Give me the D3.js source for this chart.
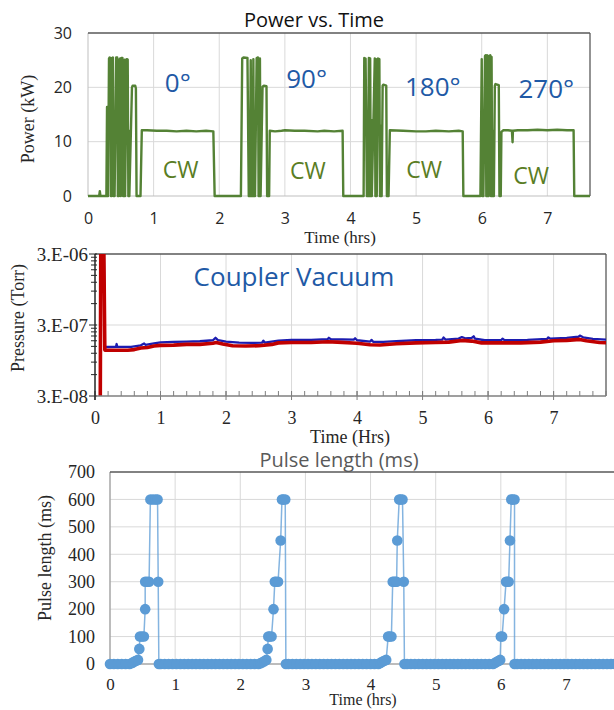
<!DOCTYPE html>
<html>
<head>
<meta charset="utf-8">
<script src="https://cdn.jsdelivr.net/npm/d3@7"></script>
<style>
  body { margin: 0; background: #fff; }
  .sans { font-family: "Open Sans", "Noto Sans", sans-serif; }
  .serif { font-family: "Liberation Serif", "Times New Roman", serif; }
</style>
</head>
<body>
<svg id="chart" width="614" height="710"></svg>
<script>
// ---------- data ----------
const hourTicks = [0, 1, 2, 3, 4, 5, 6, 7];
const powerTicks = [0, 10, 20, 30];
const pressureTicks = [3e-8, 3e-7, 3e-6];
const pressureTickLabels = ["3.E-08", "3.E-07", "3.E-06"];
const pulseTicks = [0, 100, 200, 300, 400, 500, 600, 700];

// power [hours, kW], one block per coupler angle
const power0 = [[0,0],[0.17,0],[0.18,0.9],[0.19,0],[0.28,0],[0.29,16.4],[0.30,16.4],[0.305,0],[0.32,25.3],[0.33,25.5],
  [0.345,25.4],[0.35,0],[0.355,13],[0.36,0],[0.37,25.4],[0.38,25.5],[0.39,0],[0.40,15],[0.405,0],[0.43,25.5],
  [0.445,25.5],[0.455,0],[0.46,11],[0.47,0],[0.48,25.2],[0.49,25.3],[0.50,0],[0.51,25.4],[0.525,25.4],[0.535,0],
  [0.54,14],[0.545,0],[0.56,25.1],[0.565,0],[0.59,25.2],[0.605,25.1],[0.615,0],[0.625,12],[0.63,0],[0.67,20.0],
  [0.68,20.3],[0.72,20.3],[0.73,19.8],[0.74,0],[0.80,0],[0.82,12.1],[0.90,12.1],[1.05,12.0],[1.2,12.0],[1.35,11.9],
  [1.5,12.0],[1.65,11.9],[1.8,12.0],[1.91,11.9],[1.93,0]];
const power90 = [[2.33,0],[2.35,25.3],[2.37,25.5],[2.43,25.4],[2.45,0],[2.46,13],[2.465,0],[2.48,25.0],[2.49,0],
  [2.50,12],[2.505,0],[2.52,25.2],[2.53,0],[2.54,14],[2.545,0],[2.57,25.4],[2.59,25.5],[2.60,0],[2.605,15],[2.61,0],
  [2.62,25.3],[2.63,0],[2.66,20.1],[2.68,20.3],[2.72,20.2],[2.73,0],[2.76,0],[2.77,12.0],[2.85,11.9],[2.95,12.0],
  [3.0,12.1],[3.15,12.0],[3.3,12.0],[3.5,11.9],[3.6,12.0],[3.75,11.9],[3.88,12.0],[3.89,0]];
const power180 = [[4.20,0],[4.21,25.4],[4.23,25.3],[4.25,0],[4.26,12],[4.265,0],[4.28,25.4],[4.29,0],[4.30,25.3],
  [4.31,0],[4.32,14],[4.325,0],[4.37,25.3],[4.38,0],[4.39,25.2],[4.40,0],[4.42,25.3],[4.44,25.2],[4.45,0],[4.47,13],
  [4.475,0],[4.49,20.3],[4.50,20.5],[4.545,20.3],[4.555,0],[4.58,0],[4.60,12.1],[4.8,12.0],[5.0,11.9],[5.15,11.9],
  [5.3,12.0],[5.5,11.9],[5.65,12.0],[5.71,11.9],[5.72,0]];
const power270 = [[5.98,0],[6.00,25.2],[6.01,0],[6.02,13],[6.025,0],[6.05,25.8],[6.06,25.9],[6.07,0],[6.08,25.9],
  [6.09,0],[6.10,14],[6.105,0],[6.11,25.8],[6.13,25.9],[6.14,0],[6.15,25.6],[6.16,0],[6.18,12],[6.185,0],[6.20,20.3],
  [6.21,20.6],[6.26,20.4],[6.27,0],[6.29,0],[6.30,11.8],[6.33,12.1],[6.40,12.1],[6.46,12.0],[6.47,9.9],[6.475,12.0],
  [6.55,12.1],[6.7,12.1],[6.85,12.2],[7.0,12.1],[7.15,12.2],[7.3,12.1],[7.40,12.1],[7.41,0],[7.65,0]];

// annotation text and where it sits [hours, kW]
const angleLabels = ["0°", "90°", "180°", "270°"];
const angleAt = [[1.17,19.1],[3.02,19.9],[4.83,18.4],[6.56,18.0]];
const cwAt = [[1.14,3.3],[3.08,3.1],[4.85,3.3],[6.48,2.2]];

// coupler vacuum [hours, Torr]
const vacuumRed = [[0,2e-8],[0.08,2e-8],[0.09,1e-5],[0.13,1e-5],[0.15,1.33e-7],[0.3,1.32e-7],[0.5,1.32e-7],
  [0.6,1.35e-7],[0.7,1.42e-7],[0.8,1.45e-7],[0.9,1.52e-7],[1.0,1.55e-7],[1.2,1.56e-7],[1.4,1.6e-7],[1.6,1.6e-7],
  [1.8,1.66e-7],[1.85,1.7e-7],[1.95,1.62e-7],[2.1,1.53e-7],[2.3,1.52e-7],[2.5,1.53e-7],[2.7,1.6e-7],[2.8,1.68e-7],
  [3.0,1.7e-7],[3.3,1.7e-7],[3.55,1.74e-7],[3.7,1.72e-7],[4.0,1.66e-7],[4.2,1.58e-7],[4.35,1.57e-7],[4.6,1.63e-7],
  [4.9,1.68e-7],[5.2,1.7e-7],[5.4,1.72e-7],[5.6,1.82e-7],[5.75,1.78e-7],[5.9,1.68e-7],[6.2,1.68e-7],[6.5,1.68e-7],
  [6.8,1.72e-7],[7.0,1.8e-7],[7.2,1.82e-7],[7.4,1.88e-7],[7.5,1.8e-7],[7.7,1.7e-7],[7.85,1.68e-7]];
const vacuumBlue = [[0.08,2e-8],[0.09,1e-5],[0.13,1e-5],[0.15,1.47e-7],[0.32,1.48e-7],[0.33,1.62e-7],[0.34,1.48e-7],
  [0.55,1.48e-7],[0.7,1.55e-7],[0.75,1.65e-7],[0.77,1.58e-7],[0.9,1.65e-7],[1.0,1.71e-7],[1.2,1.73e-7],[1.4,1.75e-7],
  [1.6,1.77e-7],[1.8,1.83e-7],[1.84,1.98e-7],[1.88,1.83e-7],[2.0,1.75e-7],[2.2,1.69e-7],[2.4,1.68e-7],[2.55,1.69e-7],
  [2.57,1.8e-7],[2.59,1.7e-7],[2.8,1.81e-7],[3.0,1.85e-7],[3.3,1.85e-7],[3.55,1.89e-7],[3.57,1.98e-7],[3.6,1.89e-7],
  [3.95,1.87e-7],[3.97,1.95e-7],[4.0,1.83e-7],[4.2,1.75e-7],[4.22,1.85e-7],[4.25,1.73e-7],[4.4,1.73e-7],[4.6,1.78e-7],
  [4.9,1.83e-7],[5.2,1.85e-7],[5.3,1.87e-7],[5.32,2.0e-7],[5.35,1.87e-7],[5.55,1.93e-7],[5.6,2.03e-7],[5.65,1.95e-7],
  [5.75,1.98e-7],[5.78,2.08e-7],[5.8,1.93e-7],[5.95,1.83e-7],[6.2,1.83e-7],[6.22,1.93e-7],[6.25,1.83e-7],[6.6,1.85e-7],
  [6.9,1.91e-7],[6.92,2.01e-7],[6.95,1.93e-7],[7.2,1.98e-7],[7.38,2.05e-7],[7.4,2.13e-7],[7.45,2.01e-7],[7.6,1.91e-7],
  [7.85,1.85e-7]];

// pulse length [hours, ms]
const pulseRamp1 = [[0,0],[0.06,0],[0.12,0],[0.18,0],[0.24,0],[0.30,0],[0.34,4],[0.37,8],[0.40,12],[0.43,15],
  [0.45,55],[0.46,100],[0.49,100],[0.52,100],[0.54,200],[0.54,300],[0.57,300],[0.60,300],[0.62,600],[0.66,600],
  [0.70,600],[0.73,600],[0.74,300],[0.75,0]];
const pulseIdle1 = [0.78,0.84,0.90,0.96,1.02,1.08,1.14,1.20,1.26,1.32,1.38,1.44,1.50,1.56,1.62,1.68,1.74,1.80,
  1.86,1.92,1.98,2.04,2.10,2.16,2.22,2.28];
const pulseRamp2 = [[2.31,3],[2.34,6],[2.37,10],[2.40,15],[2.42,55],[2.43,100],[2.45,100],[2.48,100],[2.51,200],
  [2.53,300],[2.55,300],[2.58,300],[2.62,450],[2.64,600],[2.66,600],[2.69,600],[2.70,0]];
const pulseIdle2 = [2.74,2.80,2.86,2.92,2.98,3.04,3.10,3.16,3.22,3.28,3.34,3.40,3.46,3.52,3.58,3.64,3.70,3.76,
  3.82,3.88,3.94,4.00,4.06,4.12];
const pulseRamp3 = [[4.15,4],[4.18,8],[4.21,12],[4.24,15],[4.27,100],[4.29,100],[4.32,100],[4.34,300],[4.36,300],
  [4.38,300],[4.40,300],[4.41,450],[4.44,600],[4.46,600],[4.49,600],[4.51,300],[4.52,0]];
const pulseIdle3 = [4.56,4.62,4.68,4.74,4.80,4.86,4.92,4.98,5.04,5.10,5.16,5.22,5.28,5.34,5.40,5.46,5.52,5.58,
  5.64,5.70,5.76,5.82,5.88];
const pulseRamp4 = [[5.91,4],[5.94,8],[5.97,12],[5.99,15],[6.00,100],[6.02,100],[6.05,200],[6.08,300],[6.10,300],
  [6.12,300],[6.14,450],[6.16,600],[6.18,600],[6.21,600],[6.21,0]];
const pulseIdle4 = [6.25,6.31,6.37,6.43,6.49,6.55,6.61,6.67,6.73,6.79,6.85,6.91,6.97,7.03,7.09,7.15,7.21,7.27,
  7.33,7.39,7.45,7.51,7.57,7.63,7.69,7.75,7.81,7.87,7.93];

// ---------- drawing ----------
const svg = d3.select("#chart");
const gridColor = "#d9d9d9";
const frameColor = "#595959";
const textColor = "#262626";

function hLine(g, x1, x2, y, color, w) {
  g.append("line").attr("x1", x1).attr("x2", x2).attr("y1", y).attr("y2", y)
    .attr("stroke", color).attr("stroke-width", w);
}
function vLine(g, x, y1, y2, color, w) {
  g.append("line").attr("x1", x).attr("x2", x).attr("y1", y1).attr("y2", y2)
    .attr("stroke", color).attr("stroke-width", w);
}
function styleAxis(g, cls, size) {
  g.select(".domain").remove();
  g.selectAll("text").attr("class", cls).style("font-size", size + "px").attr("fill", textColor);
}

// ===== Panel 1: Power vs. Time =====
const p1 = {left: 88, top: 33, right: 590, bottom: 196};
const x1 = d3.scaleLinear().domain([0, 7.65]).range([p1.left, p1.right]);
const y1 = d3.scaleLinear().domain([0, 30]).range([p1.bottom, p1.top]);
const g1 = svg.append("g");

hourTicks.slice(1).forEach(t => vLine(g1, x1(t), p1.top, p1.bottom, gridColor, 1));
[10, 20].forEach(v => hLine(g1, p1.left, p1.right, y1(v), gridColor, 1));
vLine(g1, p1.left, p1.top, p1.bottom, "#bfbfbf", 1);
hLine(g1, p1.left, p1.right, p1.bottom, "#bfbfbf", 1);
hLine(g1, p1.left, p1.right, p1.top, frameColor, 1.3);
vLine(g1, p1.right, p1.top, p1.bottom, frameColor, 1.3);

g1.append("g").attr("transform", `translate(${p1.left},0)`)
  .call(d3.axisLeft(y1).tickValues(powerTicks).tickSize(0).tickPadding(16))
  .call(g => styleAxis(g, "sans", 16));
g1.append("g").attr("transform", `translate(0,${p1.bottom})`)
  .call(d3.axisBottom(x1).tickValues(hourTicks).tickSize(0).tickPadding(17))
  .call(g => styleAxis(g, "sans", 16));

const powerLine = d3.line().x(d => x1(d[0])).y(d => y1(d[1]));
g1.append("path")
  .datum(power0.concat(power90, power180, power270))
  .attr("d", powerLine)
  .attr("fill", "none")
  .attr("stroke", "#548235")
  .attr("stroke-width", 2.4)
  .attr("stroke-linejoin", "round");

g1.selectAll(".angle").data(angleLabels).enter().append("text")
  .attr("class", "sans angle")
  .attr("x", (d, i) => x1(angleAt[i][0]))
  .attr("y", (d, i) => y1(angleAt[i][1]))
  .style("font-size", "26px")
  .attr("fill", "#1f5aa6")
  .text(d => d);
g1.selectAll(".cw").data(cwAt).enter().append("text")
  .attr("class", "sans cw")
  .attr("x", d => x1(d[0]))
  .attr("y", d => y1(d[1]))
  .style("font-size", "23px")
  .attr("fill", "#5a7d24")
  .text("CW");

svg.append("text").attr("class", "sans").attr("x", 314).attr("y", 27)
  .attr("text-anchor", "middle").style("font-size", "20px").attr("fill", "#111")
  .text("Power vs. Time");
svg.append("text").attr("class", "serif").attr("x", 340).attr("y", 243)
  .attr("text-anchor", "middle").style("font-size", "17px").attr("fill", textColor)
  .text("Time (hrs)");
svg.append("text").attr("class", "serif")
  .attr("transform", "translate(34,119) rotate(-90)")
  .attr("text-anchor", "middle").style("font-size", "18px").attr("fill", textColor)
  .text("Power (kW)");

// ===== Panel 2: Coupler Vacuum =====
const p2 = {left: 95, top: 254, right: 606, bottom: 396};
const x2 = d3.scaleLinear().domain([0, 7.8]).range([p2.left, p2.right]);
const y2 = d3.scaleLog().domain([3e-8, 3e-6]).range([p2.bottom, p2.top]);
const g2 = svg.append("g");

hourTicks.slice(1).forEach(t => vLine(g2, x2(t), p2.top, p2.bottom, gridColor, 1));
hLine(g2, p2.left, p2.right, y2(3e-7), gridColor, 1);
hLine(g2, p2.left, p2.right, p2.top, frameColor, 1.3);
vLine(g2, p2.right, p2.top, p2.bottom, frameColor, 1.3);

g2.append("defs").append("clipPath").attr("id", "clipVac")
  .append("rect").attr("x", p2.left).attr("y", p2.top)
  .attr("width", p2.right - p2.left).attr("height", p2.bottom - p2.top);

const vacLine = d3.line().x(d => x2(d[0])).y(d => y2(d[1]));
const vacG = g2.append("g").attr("clip-path", "url(#clipVac)");
vacG.append("path").datum(vacuumBlue).attr("d", vacLine)
  .attr("fill", "none").attr("stroke", "#1c1cb0").attr("stroke-width", 2.3).attr("stroke-linejoin", "round");
vacG.append("path").datum(vacuumRed).attr("d", vacLine)
  .attr("fill", "none").attr("stroke", "#c00000").attr("stroke-width", 3.6).attr("stroke-linejoin", "round");

// log minor ticks on the left axis
const minorLog = [];
pressureTicks.slice(0, 2).forEach(b => [2, 3, 4, 5, 6, 7, 8, 9].forEach(k => minorLog.push(b * k)));
minorLog.forEach(v => hLine(g2, p2.left - 4, p2.left + 2, y2(v), "#262626", 1));
pressureTicks.forEach(v => hLine(g2, p2.left - 6, p2.left + 2, y2(v), "#262626", 1));
// bottom minor ticks every 0.2 h
d3.range(0, 7.81, 0.2).forEach(t => vLine(g2, x2(t), p2.bottom - 5, p2.bottom, "#7f7f7f", 1));
hourTicks.forEach(t => vLine(g2, x2(t), p2.bottom - 5, p2.bottom + 4, "#7f7f7f", 1));
hLine(g2, p2.left, p2.right, p2.bottom, "#7f7f7f", 1.3);
vLine(g2, p2.left, p2.top, p2.bottom + 4, "#262626", 1.5);

g2.append("g").attr("transform", `translate(${p2.left},0)`)
  .call(d3.axisLeft(y2).tickValues(pressureTicks).tickSize(0).tickPadding(7)
    .tickFormat((d, i) => pressureTickLabels[i]))
  .call(g => styleAxis(g, "serif", 19));
g2.append("g").attr("transform", `translate(0,${p2.bottom})`)
  .call(d3.axisBottom(x2).tickValues(hourTicks).tickSize(0).tickPadding(15))
  .call(g => styleAxis(g, "serif", 18));

svg.append("text").attr("class", "sans").attr("x", 294).attr("y", 286)
  .attr("text-anchor", "middle").style("font-size", "26px").attr("fill", "#1f5aa6")
  .text("Coupler Vacuum");
svg.append("text").attr("class", "serif").attr("x", 350).attr("y", 443)
  .attr("text-anchor", "middle").style("font-size", "18px").attr("fill", textColor)
  .text("Time (Hrs)");
svg.append("text").attr("class", "serif")
  .attr("transform", "translate(24,318) rotate(-90)")
  .attr("text-anchor", "middle").style("font-size", "18px").attr("fill", textColor)
  .text("Pressure (Torr)");

// ===== Panel 3: Pulse length =====
const p3 = {left: 110, top: 472, bottom: 664};
const x3 = d3.scaleLinear().domain([0, 8]).range([p3.left, p3.left + 8 * 65.14]);
const y3 = d3.scaleLinear().domain([0, 700]).range([p3.bottom, p3.top]);
const g3 = svg.append("g");

hourTicks.slice(1).forEach(t => vLine(g3, x3(t), p3.top, p3.bottom, gridColor, 1));
pulseTicks.slice(1, -1).forEach(v => hLine(g3, p3.left, x3(8), y3(v), gridColor, 1));
hLine(g3, p3.left, x3(8), p3.bottom, "#a6a6a6", 1.3);
vLine(g3, p3.left, p3.top, p3.bottom, "#a6a6a6", 1.5);
hLine(g3, p3.left, x3(8), p3.top, frameColor, 1.3);

const pulseData = pulseRamp1
  .concat(pulseIdle1.map(t => [t, 0]), pulseRamp2, pulseIdle2.map(t => [t, 0]),
          pulseRamp3, pulseIdle3.map(t => [t, 0]), pulseRamp4, pulseIdle4.map(t => [t, 0]));

g3.append("path").datum(pulseData)
  .attr("d", d3.line().x(d => x3(d[0])).y(d => y3(d[1])))
  .attr("fill", "none").attr("stroke", "#5b9bd5").attr("stroke-opacity", 0.75).attr("stroke-width", 1.5);
g3.selectAll("circle").data(pulseData).enter().append("circle")
  .attr("cx", d => x3(d[0])).attr("cy", d => y3(d[1])).attr("r", 5.3)
  .attr("fill", "#5b9bd5");

g3.append("g").attr("transform", `translate(${p3.left},0)`)
  .call(d3.axisLeft(y3).tickValues(pulseTicks).tickSize(0).tickPadding(15))
  .call(g => styleAxis(g, "serif", 18));
g3.append("g").attr("transform", `translate(0,${p3.bottom})`)
  .call(d3.axisBottom(x3).tickValues(hourTicks).tickSize(0).tickPadding(14))
  .call(g => styleAxis(g, "serif", 17));

svg.append("text").attr("class", "sans").attr("x", 339).attr("y", 467)
  .attr("text-anchor", "middle").style("font-size", "20px").attr("fill", "#595959")
  .text("Pulse length (ms)");
svg.append("text").attr("class", "serif").attr("x", 363).attr("y", 705)
  .attr("text-anchor", "middle").style("font-size", "16px").attr("fill", textColor)
  .text("Time (hrs)");
svg.append("text").attr("class", "serif")
  .attr("transform", "translate(51,558) rotate(-90)")
  .attr("text-anchor", "middle").style("font-size", "18px").attr("fill", textColor)
  .text("Pulse length (ms)");
</script>
</body>
</html>
